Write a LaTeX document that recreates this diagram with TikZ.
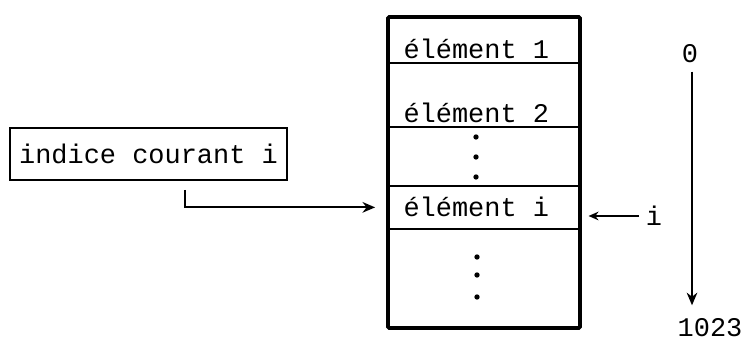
\documentclass[tikz,border=0pt]{standalone}
\usepackage{fontspec}
\setmonofont{Liberation Mono}
\usepackage{tikz}
\usetikzlibrary{arrows.meta,calc,positioning}

\begin{document}
\begin{tikzpicture}[>={Stealth[length=3.8mm,width=3.2mm]},
    txt/.style={font=\ttfamily\fontsize{23}{27}\selectfont,inner sep=0pt},
    fleche/.style={->,line width=1.6pt},
    sep/.style={line width=0.9pt}]
  \useasboundingbox (0,0) rectangle (22.32,10.23);
  % le tableau
  \node[draw,line width=3.2pt,rounded corners=1pt,minimum width=5.76cm,minimum height=9.33cm,inner sep=0pt]
    (tableau) at (14.52,5.055) {};
  \foreach \y in {8.34,6.42,4.65,3.36}
    \draw[sep] (11.64,\y) -- (17.40,\y);
  \node[txt,anchor=base west] (elt1) at (12.1,8.46) {élément 1};
  \node[txt,anchor=base west] (elt2) at (12.1,6.54) {élément 2};
  \node[txt,anchor=base west] (elti) at (12.1,3.72) {élément i};
  \foreach \y in {6.12,5.52,4.92} \fill (14.28,\y) circle (0.08);
  \foreach \y in {2.52,1.98,1.32} \fill (14.31,\y) circle (0.08);
  % l'indice
  \node[txt,draw,line width=1.5pt,minimum width=8.31cm,minimum height=1.56cm] (indice) at (4.455,5.61) {indice courant i};
  \coordinate (entree) at ($(tableau.west |- elti)+(-0.33,0)$);
  \draw[fleche] ($(indice.south)+(1.1,-0.27)$) |- (entree);
  \node[txt] (idx) at (19.62,3.75) {i};
  \draw[fleche,-{Stealth[length=3mm,width=2.6mm]}] ($(idx.west)+(-0.2,0)$) -- ($(tableau.east |- idx)+(0.2,0)$);
  % les bornes
  \node[txt] (zero) at (20.7,8.61) {0};
  \node[txt] (fin) at (21.3,0.39) {1023};
  \draw[->,line width=1.2pt] ($(zero.south)+(0.06,-0.25)$) -- ($(zero.south |- fin.north)+(0.06,0.4)$);
\end{tikzpicture}
\end{document}
